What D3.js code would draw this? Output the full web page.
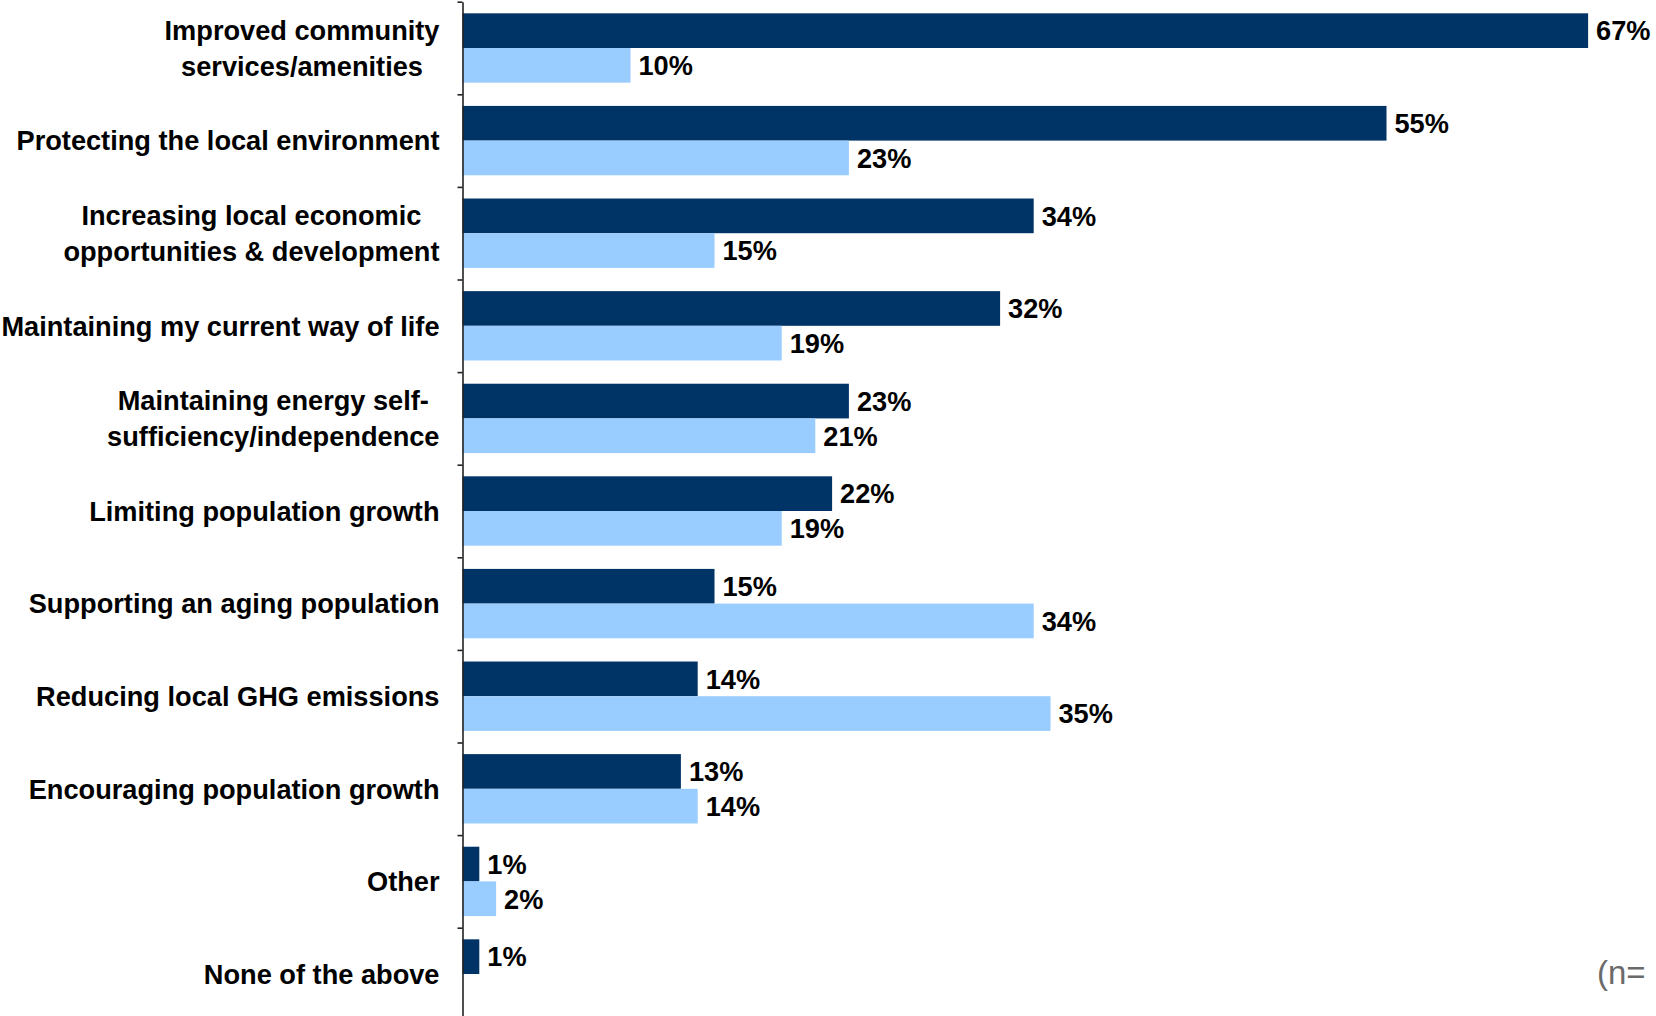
<!DOCTYPE html>
<html>
<head>
<meta charset="utf-8">
<script src="https://cdn.jsdelivr.net/npm/d3@7"></script>
<style>
  html, body { margin: 0; padding: 0; background: #fff; }
  svg { display: block; }
  text { font-family: "Liberation Sans", Arial, sans-serif; }
</style>
</head>
<body>
<svg id="chart" width="1656" height="1016"></svg>
<script>
// Survey categories (each entry holds the lines of its label)
const categories = [
  ["Improved community", "services/amenities"],
  ["Protecting the local environment"],
  ["Increasing local economic", "opportunities & development"],
  ["Maintaining my current way of life"],
  ["Maintaining energy self-", "sufficiency/independence"],
  ["Limiting population growth"],
  ["Supporting an aging population"],
  ["Reducing local GHG emissions"],
  ["Encouraging population growth"],
  ["Other"],
  ["None of the above"]
];

// Percent values, first (dark) and second (light) series
const darkValues  = [67, 55, 34, 32, 23, 22, 15, 14, 13, 1, 1];
const lightValues = [10, 23, 15, 19, 21, 19, 34, 35, 14, 2, null];

const seriesKeys = ["dark", "light"];
const seriesColors = { dark: "#003366", light: "#99CCFF" };

const rows = categories.map((lines, i) => ({
  key: lines.join(" "),
  lines,
  dark: darkValues[i],
  light: lightValues[i]
}));

const svg = d3.select("#chart");

const axisX = 462.5;
const plotTop = 1.7;
const step = 92.6;
const fontSize = 27.2;

const x = d3.scaleLinear().domain([0, 70]).range([axisX, axisX + 70 * 16.8]);

const y = d3.scaleBand()
  .domain(rows.map(d => d.key))
  .range([plotTop, plotTop + step * rows.length])
  .padding(0);

const ySeries = d3.scaleBand()
  .domain(seriesKeys)
  .range([0, y.bandwidth()])
  .paddingInner(0)
  .paddingOuter(0.335);

// Bars
const groups = svg.append("g")
  .selectAll("g")
  .data(rows)
  .join("g")
  .attr("transform", d => `translate(0,${y(d.key)})`);

const cells = groups.selectAll("g.cell")
  .data(d => seriesKeys
    .filter(k => d[k] != null)
    .map(k => ({ key: k, value: d[k] })))
  .join("g")
  .attr("class", "cell");

cells.append("rect")
  .attr("x", x(0))
  .attr("y", d => ySeries(d.key))
  .attr("width", d => x(d.value) - x(0))
  .attr("height", ySeries.bandwidth())
  .attr("fill", d => seriesColors[d.key]);

cells.append("text")
  .attr("x", d => x(d.value) + 8)
  .attr("y", d => ySeries(d.key) + ySeries.bandwidth() / 2)
  .attr("dy", "0.36em")
  .attr("font-size", fontSize)
  .attr("font-weight", "bold")
  .attr("fill", "#000")
  .text(d => d.value + "%");

// Category axis with ticks on band boundaries
const boundary = d3.scaleLinear()
  .domain([0, rows.length])
  .range([plotTop, plotTop + step * rows.length]);

const axis = svg.append("g")
  .attr("transform", `translate(${axisX},0)`)
  .call(d3.axisLeft(boundary)
    .ticks(rows.length)
    .tickSize(5)
    .tickSizeOuter(0)
    .tickFormat(""));
axis.select(".domain").attr("stroke", "#222").attr("stroke-width", 1.6);
axis.selectAll(".tick line").attr("stroke", "#222").attr("stroke-width", 1.6);

// Category labels: block right-aligned to the axis, lines centred within the block
const labelRight = axisX - 23;
const lineGap = 36;
rows.forEach(d => {
  const cy = y(d.key) + y.bandwidth() / 2;
  const g = svg.append("g");
  const texts = d.lines.map((line, j) =>
    g.append("text")
      .attr("font-size", fontSize)
      .attr("font-weight", "bold")
      .attr("fill", "#000")
      .attr("y", cy + (j - (d.lines.length - 1) / 2) * lineGap)
      .attr("dy", "0.36em")
      .text(line));
  const widths = texts.map(t => t.node().getComputedTextLength());
  const maxW = d3.max(widths);
  const centre = labelRight - maxW / 2;
  texts.forEach(t => t.attr("x", centre).attr("text-anchor", "middle"));
});

// Sample size note
svg.append("text")
  .attr("x", 1597)
  .attr("y", 984)
  .attr("font-size", 33)
  .attr("fill", "#6a6a6a")
  .text("(n=");
</script>
</body>
</html>
